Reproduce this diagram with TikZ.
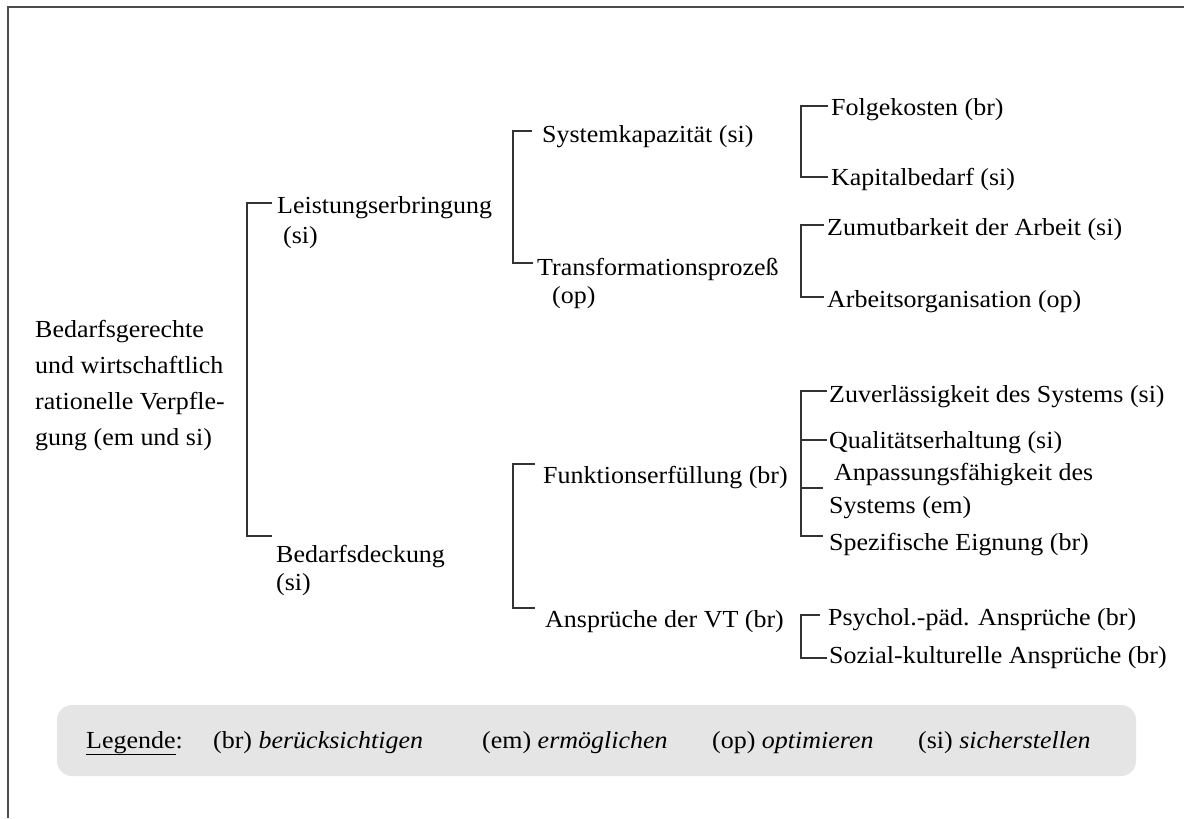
\documentclass[tikz,border=0pt]{standalone}
\usepackage{fontspec}
\setmainfont[FakeStretch=1.06]{Liberation Serif}
\usetikzlibrary{calc}
\definecolor{legendfill}{HTML}{E5E5E5}
\begin{document}
\begin{tikzpicture}[x=1pt,y=-1pt,
  lbl/.style={anchor=base west, inner sep=0pt, font=\fontsize{24.5}{28}\selectfont, align=left},
  wide/.style={font=\fontsize{24.5}{35.7}\selectfont},
  mid/.style={font=\fontsize{24.5}{30}\selectfont},
  brk/.style={line width=1.2pt, draw=black!80},
  frameline/.style={line width=1.5pt, draw=black!70}]
\useasboundingbox (0,0) rectangle (1184,819);

% outer frame (top and left edges)
\draw[frameline] (1184,7) -- (8,7) -- (8,818);

% root (multi-line nodes are placed by the baseline of their last line)
\node[lbl,wide] (root) at (35,445) {Bedarfsgerechte\\und wirtschaftlich\\rationelle Verpfle-\\gung (em und si)};

% level 1
\node[lbl,mid] (lei) at (277,243) {Leistungserbringung\\\hspace*{6pt}(si)};
\node[lbl] (bed) at (276,590) {Bedarfsdeckung\\(si)};

% level 2
\node[lbl] (sys) at (542,142) {Systemkapazität (si)};
\node[lbl] (tra) at (537,303) {Transformationsprozeß\\\hspace*{15pt}(op)};
\node[lbl] (fun) at (543,483) {Funktionserfüllung (br)};
\node[lbl] (ans) at (545,627) {Ansprüche der VT (br)};

% level 3
\node[lbl] (fol) at (831,115) {Folgekosten (br)};
\node[lbl] (kap) at (831,185) {Kapitalbedarf (si)};
\node[lbl] (zum) at (827,235) {Zumutbarkeit der Arbeit (si)};
\node[lbl] (arb) at (827,307) {Arbeitsorganisation (op)};
\node[lbl] (zuv) at (829,402) {Zuverlässigkeit des Systems (si)};
\node[lbl] (qua) at (829,448) {Qualitätserhaltung (si)};
\node[lbl,font=\fontsize{24.5}{33}\selectfont] (anp) at (834,513) {Anpassungsfähigkeit des\\\hspace*{-5pt}Systems (em)};
\node[lbl] (spe) at (829,550) {Spezifische Eignung (br)};
\node[lbl] (psy) at (828,625) {Psychol.-päd. Ansprüche (br)};
\node[lbl] (soz) at (829,663) {Sozial-kulturelle Ansprüche (br)};

% bracket ends
\coordinate (l1a) at (272,203);  \coordinate (l1b) at (272,536);  \coordinate (l1s) at (247,0);
\coordinate (s2a) at (532,131);  \coordinate (s2b) at (533,263);  \coordinate (s2s) at (513,0);
\coordinate (f2a) at (535,464);  \coordinate (f2b) at (535,608);
\coordinate (k3a) at (828,106);  \coordinate (k3b) at (828,177);  \coordinate (k3s) at (801,0);
\coordinate (a3a) at (824,225);  \coordinate (a3b) at (824,297);
\coordinate (z3a) at (827,391);  \coordinate (z3q) at (827,440);
\coordinate (z3p) at (823,488);  \coordinate (z3b) at (823,536);
\coordinate (p3a) at (820,615);  \coordinate (p3b) at (827,658);

% brackets
\draw[brk] (l1a) -| (l1s |- l1b) -- (l1b);
\draw[brk] (s2a) -| (s2s |- s2b) -- (s2b);
\draw[brk] (f2a) -| (s2s |- f2b) -- (f2b);
\draw[brk] (k3a) -| (k3s |- k3b) -- (k3b);
\draw[brk] (a3a) -| (k3s |- a3b) -- (a3b);
\draw[brk] (z3a) -| (k3s |- z3b) -- (z3b);
\draw[brk] (k3s |- z3q) -- (z3q);
\draw[brk] (k3s |- z3p) -- (z3p);
\draw[brk] (p3a) -| (k3s |- p3b) -- (p3b);

% legend
\fill[legendfill, rounded corners=15pt] (57,705) rectangle (1136,776);
\node[lbl] (leg) at (86,748) {\underline{Legende}:};
\node[lbl] (lbr) at (213,748) {(br) \textit{berücksichtigen}};
\node[lbl] (lem) at (482,748) {(em) \textit{ermöglichen}};
\node[lbl] (lop) at (712,748) {(op) \textit{optimieren}};
\node[lbl] (lsi) at (918,748) {(si) \textit{sicherstellen}};
\end{tikzpicture}
\end{document}
